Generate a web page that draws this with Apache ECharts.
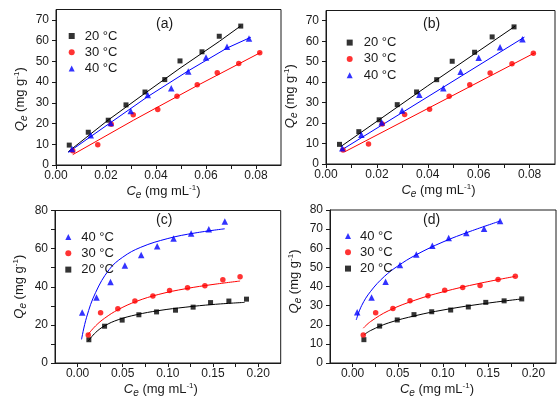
<!DOCTYPE html>
<html lang="en">
<head>
<meta charset="UTF-8">
<title>Qe vs Ce isotherms</title>
<script src="https://cdn.jsdelivr.net/npm/echarts@6/dist/echarts.min.js"></script>
</head>
<body style="margin:0;background:#fff">
<div id="main" style="width:558px;height:399px;"></div>
<script type="text/javascript">
// panels (a) and (b): same measured points, two different fits
var ceAB20 = [0.0053, 0.0129, 0.0209, 0.028, 0.0356, 0.0435, 0.0496, 0.0584, 0.0653, 0.0739];
var qeAB20 = [9.6, 15.8, 21.6, 29.0, 35.2, 41.2, 50.2, 54.6, 62.1, 67.0];
var ceAB30 = [0.0067, 0.0167, 0.0221, 0.0309, 0.0407, 0.0484, 0.0565, 0.0645, 0.0731, 0.0815];
var qeAB30 = [6.9, 9.8, 19.6, 24.2, 26.8, 33.1, 38.7, 44.5, 49.0, 54.1];
var ceAB40 = [0.0064, 0.0139, 0.0219, 0.0299, 0.0367, 0.0461, 0.0529, 0.0600, 0.0684, 0.0772];
var qeAB40 = [7.7, 14.3, 20.3, 26.1, 33.8, 37.0, 45.1, 51.9, 57.0, 61.0];

// fitted curves
var fitA20 = [[0.0049, 6.4], [0.0209, 21.7], [0.0356, 34.6], [0.0496, 46.7], [0.0653, 59.6], [0.0739, 67.1]];
var fitA30 = [[0.0067, 5.0], [0.031, 21.6], [0.0565, 38.3], [0.0819, 54.3]];
var fitA40 = [[0.0049, 6.1], [0.0219, 20.5], [0.0367, 33.0], [0.0529, 45.4], [0.0684, 56.4], [0.0779, 61.6]];
// fitted lines
var fitB20 = [[0.0058, 8.5], [0.04, 38.2], [0.0744, 67.4]];
var fitB30 = [[0.0074, 6.0], [0.082, 54.3]];
var fitB40 = [[0.0067, 7.3], [0.078, 62.0]];

// panels (c) and (d)
var ceCD20 = [0.0125, 0.0299, 0.0494, 0.0679, 0.0875, 0.1085, 0.128, 0.1473, 0.1676, 0.1871];
var qeCD20 = [12.2, 19.3, 22.5, 25.3, 26.8, 27.7, 29.3, 31.7, 32.5, 33.5];
var ceCD30 = [0.0118, 0.0255, 0.0446, 0.0635, 0.0834, 0.1019, 0.1218, 0.141, 0.1609, 0.18];
var qeCD30 = [14.7, 26.3, 28.5, 32.5, 35.2, 38.0, 39.5, 40.5, 43.7, 45.3];
var ceCD40 = [0.0051, 0.021, 0.0365, 0.0524, 0.0705, 0.0882, 0.1063, 0.1258, 0.1454, 0.1631];
var qeCD40 = [26.5, 34.3, 42.5, 51.2, 56.7, 61.3, 65.3, 68.0, 70.2, 74.2];

var fitC20 = [[0.0117, 11.5], [0.02, 16.0], [0.03, 19.5], [0.045, 22.7], [0.065, 25.3], [0.09, 27.5], [0.12, 29.3], [0.15, 30.7], [0.185, 31.8]];
var fitC30 = [[0.011, 14.6], [0.02, 19.5], [0.03, 23.5], [0.045, 28.0], [0.065, 32.3], [0.09, 36.0], [0.12, 39.0], [0.15, 41.2], [0.18, 43.0]];
var fitC40 = [[0.0044, 12.4], [0.01, 24.0], [0.02, 37.0], [0.035, 49.0], [0.05, 55.5], [0.07, 60.7], [0.1, 65.3], [0.13, 68.2], [0.163, 70.4]];
var fitD20 = [[0.0125, 14.7], [0.02, 17.0], [0.04, 21.0], [0.07, 24.8], [0.1, 27.7], [0.14, 30.7], [0.187, 33.5]];
var fitD30 = [[0.0118, 18.2], [0.02, 21.7], [0.04, 27.4], [0.07, 33.0], [0.1, 37.2], [0.14, 41.6], [0.18, 45.3]];
var fitD40 = [[0.004, 22.5], [0.01, 30.0], [0.02, 37.5], [0.035, 45.2], [0.05, 50.7], [0.07, 56.5], [0.1, 63.3], [0.13, 68.8], [0.163, 74.2]];

var names = ['20 °C', '30 °C', '40 °C'];
var ticksAB = [0, 0.01, 0.02, 0.03, 0.04, 0.05, 0.06, 0.07, 0.08];
var labelsAB = [0, 0.02, 0.04, 0.06, 0.08];
var ticksCD = [0, 0.025, 0.05, 0.075, 0.1, 0.125, 0.15, 0.175, 0.2];
var labelsCD = [0, 0.05, 0.1, 0.15, 0.2];
var yTicksAB = [0, 10, 20, 30, 40, 50, 60, 70];
var yTicksC = [0, 10, 20, 30, 40, 50, 60, 70, 80];
var yLabelsC = [0, 20, 40, 60, 80];
var yLabelsD = [0, 10, 20, 30, 40, 50, 60, 70, 80];

var font = 'Liberation Sans, Arial, sans-serif';
var ink = '#1a1a1a';

function pairs(xs, ys) {
    return xs.map(function (x, i) { return [x, ys[i]]; });
}

var richName = {
    i: {fontStyle: 'italic', fontSize: 13, fontFamily: font, color: ink},
    e: {fontStyle: 'italic', fontSize: 10, fontFamily: font, color: ink, padding: [7, 0, 0, 0]},
    t: {fontSize: 13, fontFamily: font, color: ink},
    s: {fontSize: 8, fontFamily: font, color: ink, padding: [0, 0, 7, 0]}
};

function xAxisOf(idx, min, max, ticks, labels, pad) {
    return {
        type: 'value', gridIndex: idx, min: min, max: max,
        name: '{i|C}{e|e}{t| (mg mL}{s|-1}{t|)}', nameLocation: 'middle', nameGap: 18,
        nameTextStyle: {padding: pad, rich: richName},
        axisLine: {show: true, onZero: false, lineStyle: {color: ink, width: 1}},
        axisTick: {show: true, inside: false, length: 4, customValues: ticks, lineStyle: {color: ink}},
        axisLabel: {
            customValues: labels, margin: 5, color: ink, fontSize: 12, fontFamily: font,
            formatter: function (v) { return v.toFixed(2); }
        },
        splitLine: {show: false}
    };
}

function yAxisOf(idx, max, ticks, labels, pad) {
    return {
        type: 'value', gridIndex: idx, min: 0, max: max,
        name: '{i|Q}{e|e}{t| (mg g}{s|-1}{t|)}', nameLocation: 'middle', nameGap: 27,
        nameTextStyle: {padding: pad, rich: richName},
        axisLine: {show: true, onZero: false, lineStyle: {color: ink, width: 1}},
        axisTick: {show: true, inside: false, length: 4, customValues: ticks, lineStyle: {color: ink}},
        axisLabel: {customValues: labels, margin: 7, color: ink, fontSize: 12, fontFamily: font},
        splitLine: {show: false}
    };
}

function legendOf(left, top, data, pad) {
    return {
        orient: 'vertical', left: left, top: top, padding: 0,
        itemWidth: 6, itemHeight: 6, itemGap: 2.3,
        selectedMode: false,
        textStyle: {fontSize: 13, fontFamily: font, color: ink, lineHeight: 14, padding: [0, 0, 0, pad]},
        data: data
    };
}

var colors = ['#000000', '#ff0000', '#0000ff'];
var symbols = ['rect', 'circle', 'triangle'];
var sizes = [5, 5.5, 6.5];

function pointsOf(grid, k, data) {
    return {
        name: names[k], type: 'scatter', xAxisIndex: grid, yAxisIndex: grid,
        symbol: symbols[k], symbolSize: sizes[k], z: 3,
        itemStyle: {color: colors[k]}, data: data
    };
}

function fitOf(grid, k, data, smooth) {
    return {
        type: 'line', xAxisIndex: grid, yAxisIndex: grid, showSymbol: false,
        smooth: smooth, z: 2, silent: true,
        lineStyle: {color: colors[k], width: 1}, data: data
    };
}

var myChart = echarts.init(document.getElementById('main'));

var box = {show: true, borderColor: ink, borderWidth: 1, backgroundColor: 'transparent'};

var option = {
    animation: false,
    backgroundColor: '#ffffff',
    grid: [
        Object.assign({left: 56, top: 9.5, width: 225, height: 155.5}, box),
        Object.assign({left: 326, top: 10.5, width: 229, height: 153.5}, box),
        Object.assign({left: 55, top: 210.5, width: 225.7, height: 158.8}, box),
        Object.assign({left: 330, top: 210, width: 226, height: 160}, box)
    ],
    xAxis: [
        xAxisOf(0, 0, 0.09, ticksAB, labelsAB, [0, 10, 0, 0]),
        xAxisOf(1, 0, 0.09, ticksAB, labelsAB, [0, 4, 0, 0]),
        xAxisOf(2, -0.025, 0.225, ticksCD, labelsCD, [0, 14, 0, 0]),
        xAxisOf(3, -0.025, 0.225, ticksCD, labelsCD, [0, 12, 0, 0])
    ],
    yAxis: [
        yAxisOf(0, 75, yTicksAB, yTicksAB, [0, 24, 0, 0]),
        yAxisOf(1, 75, yTicksAB, yTicksAB, [0, 18, 0, 0]),
        yAxisOf(2, 80, yTicksC, yLabelsC, [0, 0, 0, 0]),
        yAxisOf(3, 80, yLabelsD, yLabelsD, [0, 0, 0, 10])
    ],
    legend: [
        legendOf(68.7, 29, names, 5),
        legendOf(346.7, 35.6, names, 6),
        legendOf(65.3, 230, names.slice().reverse(), 5),
        legendOf(345, 229, names.slice().reverse(), 4)
    ],
    graphic: [
        {type: 'text', left: 156, top: 17, style: {text: '(a)', fontSize: 14, fontFamily: font, fill: ink}},
        {type: 'text', left: 423, top: 17, style: {text: '(b)', fontSize: 14, fontFamily: font, fill: ink}},
        {type: 'text', left: 156, top: 213, style: {text: '(c)', fontSize: 14, fontFamily: font, fill: ink}},
        {type: 'text', left: 423, top: 213, style: {text: '(d)', fontSize: 14, fontFamily: font, fill: ink}}
    ],
    series: [
        fitOf(0, 0, fitA20, false), fitOf(0, 1, fitA30, false), fitOf(0, 2, fitA40, false),
        pointsOf(0, 0, pairs(ceAB20, qeAB20)), pointsOf(0, 1, pairs(ceAB30, qeAB30)), pointsOf(0, 2, pairs(ceAB40, qeAB40)),
        fitOf(1, 0, fitB20, false), fitOf(1, 1, fitB30, false), fitOf(1, 2, fitB40, false),
        pointsOf(1, 0, pairs(ceAB20, qeAB20)), pointsOf(1, 1, pairs(ceAB30, qeAB30)), pointsOf(1, 2, pairs(ceAB40, qeAB40)),
        fitOf(2, 0, fitC20, 0.4), fitOf(2, 1, fitC30, 0.4), fitOf(2, 2, fitC40, 0.4),
        pointsOf(2, 0, pairs(ceCD20, qeCD20)), pointsOf(2, 1, pairs(ceCD30, qeCD30)), pointsOf(2, 2, pairs(ceCD40, qeCD40)),
        fitOf(3, 0, fitD20, 0.4), fitOf(3, 1, fitD30, 0.4), fitOf(3, 2, fitD40, 0.4),
        pointsOf(3, 0, pairs(ceCD20, qeCD20)), pointsOf(3, 1, pairs(ceCD30, qeCD30)), pointsOf(3, 2, pairs(ceCD40, qeCD40))
    ]
};

myChart.setOption(option);
</script>
</body>
</html>
